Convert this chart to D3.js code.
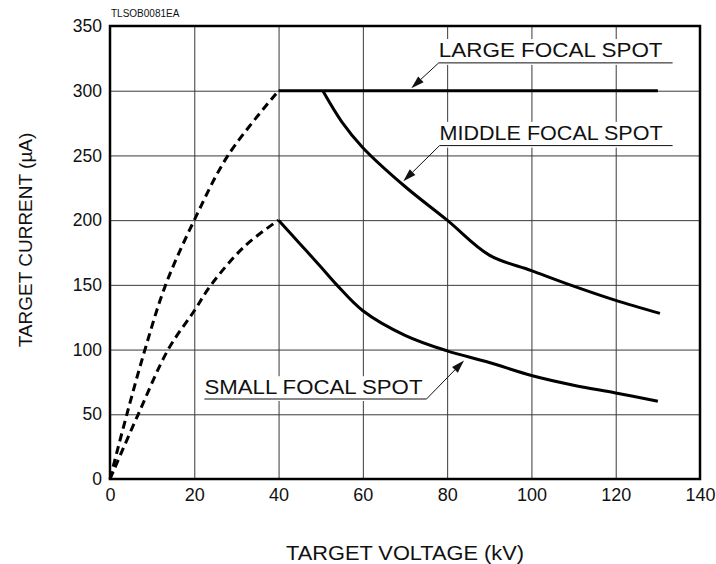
<!DOCTYPE html>
<html>
<head>
<meta charset="utf-8">
<script src="https://cdn.jsdelivr.net/npm/d3@7"></script>
<style>
  body { margin: 0; background: #fff; }
  svg { display: block; font-family: 'Liberation Sans', Arial, sans-serif; }
</style>
</head>
<body>
<div id="chart"></div>
<script>
/* Chart data */
const xTicks = [0, 20, 40, 60, 80, 100, 120, 140];
const yTicks = [0, 50, 100, 150, 200, 250, 300, 350];

// dashed rise from the origin (kV, uA)
const largeRiseV = [0, 4, 8.3, 13.2, 20, 28, 40];
const largeRiseI = [0, 50, 100, 150, 200, 250, 300];
const smallRiseV = [0, 6.7, 13.8, 20, 24, 32, 40];
const smallRiseI = [0, 50, 100, 130, 150, 180, 200];

// solid limit curves
const largeV = [40, 130];
const largeI = [300, 300];
const middleV = [50.5, 55, 60, 70, 80, 90, 100, 110, 120, 130.5];
const middleI = [300, 276, 256, 226, 200, 173, 161, 149, 138, 128];
const smallV = [40, 45, 50, 53.8, 60, 70, 80, 90, 100, 110, 120, 130];
const smallI = [200, 182, 164, 150, 130, 111, 99, 90, 80, 72.5, 66.5, 60];

const labels = ['LARGE FOCAL SPOT', 'MIDDLE FOCAL SPOT', 'SMALL FOCAL SPOT'];

/* Layout */
const width = 716;
const height = 564;
const margin = { top: 26, right: 16, bottom: 85, left: 110 };
const innerWidth = width - margin.left - margin.right;
const innerHeight = height - margin.top - margin.bottom;

const svg = d3.select('#chart')
  .append('svg')
  .attr('width', width)
  .attr('height', height);

const chart = svg.append('g')
  .attr('transform', `translate(${margin.left},${margin.top})`);

const x = d3.scaleLinear().domain([0, 140]).range([0, innerWidth]);
const y = d3.scaleLinear().domain([0, 350]).range([innerHeight, 0]);

const zip = (xs, ys) => xs.map((v, i) => [v, ys[i]]);

// grid + tick labels
const xAxis = chart.append('g')
  .attr('transform', `translate(0,${innerHeight})`)
  .call(d3.axisBottom(x).tickValues(xTicks).tickSize(-innerHeight).tickPadding(9));
const yAxis = chart.append('g')
  .call(d3.axisLeft(y).tickValues(yTicks).tickSize(-innerWidth).tickPadding(8));

[xAxis, yAxis].forEach((ax) => {
  ax.select('.domain').remove();
  ax.selectAll('line').attr('stroke', '#3a3a3a').attr('stroke-width', 1);
  ax.selectAll('text')
    .style('font-family', "'Liberation Sans', Arial, sans-serif")
    .style('font-size', '18px')
    .attr('fill', '#111');
});
yAxis.selectAll('text').style('font-size', '17.5px');

// label annotations, placed in data units
const notes = [
  { text: labels[0], tx: 78, ty: 326, uy: 321.5, ux: 133.5, from: 'start', tip: [71.5, 302] },
  { text: labels[1], tx: 78.2, ty: 262, uy: 257.6, ux: 133.5, from: 'start', tip: [69.6, 230] },
  { text: labels[2], tx: 22.4, ty: 65.5, uy: 61.8, ux: 75.1, from: 'end', tip: [84, 91.5] }
];

notes.forEach((n) => {
  const x0 = x(n.tx);
  const x1 = x(n.ux);
  const base = y(n.ty);
  const uy = y(n.uy);

  // white box knocks out the grid behind the text
  chart.append('rect')
    .attr('x', x0 - 2)
    .attr('y', base - 18)
    .attr('width', x1 - x0 + 4)
    .attr('height', uy - base + 20)
    .attr('fill', '#fff');

  chart.append('text')
    .attr('x', x0)
    .attr('y', base)
    .attr('textLength', x1 - x0 - (n.from === 'end' ? 4 : 10))
    .attr('lengthAdjust', 'spacingAndGlyphs')
    .style('font-size', '20px')
    .attr('fill', '#111')
    .text(n.text);

  chart.append('line')
    .attr('x1', x0).attr('x2', x1)
    .attr('y1', uy).attr('y2', uy)
    .attr('stroke', '#111')
    .attr('stroke-width', 1);

  // leader with arrowhead
  const sx = n.from === 'start' ? x0 : x1;
  const tx = x(n.tip[0]);
  const ty = y(n.tip[1]);
  const ang = Math.atan2(ty - uy, tx - sx);
  const len = 13;
  const half = 4;
  const bx = tx - len * Math.cos(ang);
  const by = ty - len * Math.sin(ang);
  chart.append('line')
    .attr('x1', sx).attr('y1', uy)
    .attr('x2', bx).attr('y2', by)
    .attr('stroke', '#111')
    .attr('stroke-width', 1);
  chart.append('path')
    .attr('d', `M${tx},${ty}` +
      `L${bx - half * Math.sin(ang)},${by + half * Math.cos(ang)}` +
      `L${bx + half * Math.sin(ang)},${by - half * Math.cos(ang)}Z`)
    .attr('fill', '#111');
});

// curves
const smooth = d3.line()
  .x((d) => x(d[0]))
  .y((d) => y(d[1]))
  .curve(d3.curveCatmullRom.alpha(0.5));

[zip(largeRiseV, largeRiseI), zip(smallRiseV, smallRiseI)].forEach((pts) => {
  chart.append('path')
    .datum(pts)
    .attr('d', smooth)
    .attr('fill', 'none')
    .attr('stroke', '#000')
    .attr('stroke-width', 3)
    .attr('stroke-dasharray', '8,5');
});

[zip(largeV, largeI), zip(middleV, middleI), zip(smallV, smallI)].forEach((pts) => {
  chart.append('path')
    .datum(pts)
    .attr('d', smooth)
    .attr('fill', 'none')
    .attr('stroke', '#000')
    .attr('stroke-width', 3);
});

// frame
chart.append('rect')
  .attr('width', innerWidth)
  .attr('height', innerHeight)
  .attr('fill', 'none')
  .attr('stroke', '#000')
  .attr('stroke-width', 2.5);

// titles
svg.append('text')
  .attr('x', margin.left + innerWidth / 2)
  .attr('y', 560)
  .attr('text-anchor', 'middle')
  .attr('textLength', 238)
  .attr('lengthAdjust', 'spacingAndGlyphs')
  .style('font-size', '20px')
  .attr('fill', '#111')
  .text('TARGET VOLTAGE (kV)');

svg.append('text')
  .attr('transform', 'translate(31.5,240) rotate(-90)')
  .attr('text-anchor', 'middle')
  .style('font-size', '19px')
  .attr('fill', '#111')
  .text('TARGET CURRENT (µA)');

svg.append('text')
  .attr('x', margin.left + 1)
  .attr('y', 17)
  .style('font-size', '10px')
  .attr('fill', '#111')
  .text('TLSOB0081EA');
</script>
</body>
</html>
